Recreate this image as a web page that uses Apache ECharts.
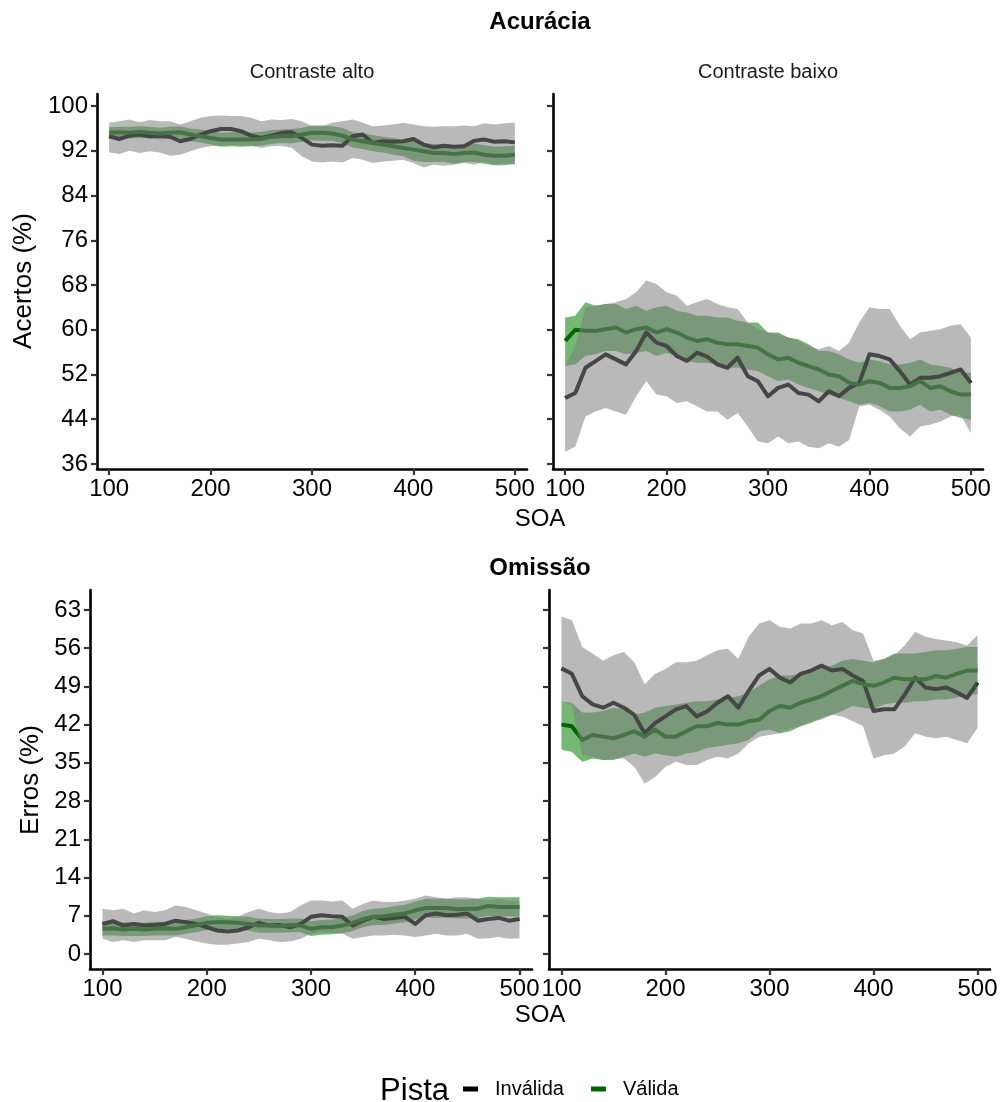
<!DOCTYPE html>
<html>
<head>
<meta charset="utf-8">
<script src="https://cdn.jsdelivr.net/npm/echarts@6/dist/echarts.min.js"></script>
<style>
  html, body { margin: 0; padding: 0; background: #fff; }
  #chart { width: 1005px; height: 1102px; }
</style>
</head>
<body>
<div id="chart"></div>
<script>
// SOA (ms)
const soa = [100,110,120,130,140,150,160,170,180,190,200,210,220,230,240,250,260,270,280,290,300,
             310,320,330,340,350,360,370,380,390,400,410,420,430,440,450,460,470,480,490,500]

const xTicks = [100,200,300,400,500]
const accTicks = [36,44,52,60,68,76,84,92,100]
const errTicks = [0,7,14,21,28,35,42,49,56,63]

// Acurácia - Contraste alto
const altoAccInv = [94.6,94.1,94.7,94.9,94.6,94.7,94.5,93.7,94.1,94.9,95.5,95.9,95.9,95.5,94.7,94.3,94.7,95.2,95.3,94.3,93.1,92.9,93.0,92.9,94.6,94.9,93.4,93.7,93.6,93.7,94.1,93.1,92.6,92.9,92.7,92.8,93.8,94.0,93.6,93.7,93.5]
const altoAccInvHi = [97.0,97.3,97.6,97.1,97.5,97.3,97.3,96.7,97.3,97.9,98.2,98.3,98.2,98.2,97.9,97.3,97.6,97.5,97.7,97.3,96.4,96.4,97.0,97.3,97.6,97.0,96.4,96.5,96.7,97.0,96.7,96.4,96.3,96.4,96.4,96.5,96.4,96.9,96.7,96.9,97.0]
const altoAccInvLo = [91.7,91.4,92.0,91.6,91.9,91.7,91.1,91.3,91.9,92.5,92.8,92.9,93.0,93.0,92.9,92.5,92.8,92.9,92.5,91.0,90.1,89.9,90.1,89.9,90.7,90.4,89.8,90.1,90.2,90.4,89.8,89.0,89.5,89.3,89.5,89.8,89.5,90.1,89.5,89.8,89.5]
const altoAccVal = [95.2,95.3,95.2,95.4,95.2,95.1,95.2,95.3,94.9,94.6,94.3,94.0,94.0,94.0,94.0,94.1,94.5,94.6,94.6,94.9,95.2,95.2,95.1,94.7,94.0,93.7,93.4,93.1,92.8,92.5,92.2,91.9,91.6,91.6,91.4,91.6,91.7,91.3,91.1,91.1,91.3]
const altoAccValHi = [96.2,96.3,96.3,96.4,96.3,96.1,96.3,96.4,96.0,95.8,95.5,95.2,95.3,95.2,95.2,95.4,95.7,95.8,95.9,96.1,96.5,96.5,96.4,96.1,95.3,95.1,94.8,94.5,94.3,93.9,93.7,93.4,93.2,93.1,93.0,93.2,93.3,93.0,92.7,92.8,92.9]
const altoAccValLo = [94.2,94.2,94.2,94.3,94.2,94.0,94.2,94.2,93.7,93.5,93.1,92.7,92.8,92.7,92.8,92.9,93.2,93.4,93.3,93.6,93.9,93.8,93.8,93.4,92.6,92.3,91.9,91.7,91.3,91.0,90.2,90.0,90.0,90.0,89.7,90.0,90.0,89.7,89.4,89.4,89.7]

// Acurácia - Contraste baixo
const baixoAccInv = [47.8,48.7,53.2,54.4,55.6,54.7,53.8,56.2,59.5,57.7,57.1,55.3,54.4,55.9,55.2,53.8,53.2,55.0,51.7,50.8,48.1,49.6,50.2,48.7,48.4,47.2,49.0,48.1,49.6,50.5,55.6,55.3,54.7,52.6,50.2,51.4,51.4,51.7,52.3,52.9,50.5]
const baixoAccInvHi = [53.5,57.1,64.0,64.3,64.6,64.9,65.5,66.7,68.8,68.2,66.7,66.1,64.3,64.9,65.5,64.6,64.0,63.7,61.3,60.1,59.5,59.2,58.6,58.0,57.1,56.5,57.1,56.2,57.7,61.3,64.0,63.7,63.7,60.7,58.3,59.5,59.8,60.1,60.7,61.0,58.6]
const baixoAccInvLo = [38.2,39.1,44.5,45.4,46.0,45.4,44.8,48.1,50.8,48.4,48.1,46.9,47.2,46.3,45.4,45.4,43.9,45.1,42.7,40.0,39.7,40.9,39.7,40.0,39.1,38.8,39.7,39.1,40.3,46.3,46.6,45.7,44.5,42.4,40.9,42.7,43.0,43.6,44.5,44.8,41.5]
const baixoAccVal = [58.0,60.0,59.8,59.8,60.1,60.4,59.5,60.1,60.4,59.5,60.1,59.5,58.6,58.0,58.3,57.7,57.4,57.4,57.1,56.8,55.6,54.7,55.0,54.1,53.5,52.9,52.0,51.7,50.5,50.2,50.8,50.5,49.6,49.6,49.9,50.8,49.6,49.9,49.0,48.4,48.4]
const baixoAccValHi = [62.2,62.5,64.9,64.3,64.6,64.6,63.7,64.3,63.4,64.0,64.3,63.4,63.1,62.5,62.5,62.2,62.2,61.6,61.3,61.3,59.5,59.5,58.6,58.3,57.4,56.2,56.2,55.6,54.7,54.1,54.7,54.4,53.8,53.8,54.1,54.7,53.8,53.5,53.2,52.3,52.3]
const baixoAccValLo = [53.5,53.8,55.3,55.6,56.2,56.2,55.6,55.9,56.2,55.3,55.9,55.3,54.4,54.1,54.1,53.8,53.2,53.2,52.9,52.6,51.7,50.8,51.1,50.2,49.6,49.0,48.4,47.8,47.2,46.6,46.9,46.3,45.4,45.4,45.7,46.6,45.4,45.7,44.8,44.2,43.9]

// Omissão - Contraste alto
const altoErrInv = [5.5,6.0,5.2,5.5,5.2,5.3,5.5,6.1,5.8,5.5,4.9,4.3,4.1,4.3,4.9,5.7,5.2,5.3,4.9,5.5,6.8,7.1,6.9,6.8,5.2,6.1,6.8,6.4,6.6,6.8,5.5,7.1,7.4,7.1,7.2,7.4,6.1,6.4,6.6,6.1,6.4]
const altoErrInvHi = [8.3,8.0,8.3,7.4,8.0,7.7,8.0,8.9,8.6,8.0,7.4,6.8,6.4,6.8,7.7,8.3,7.7,7.4,7.7,8.9,9.8,9.8,9.6,9.8,8.3,9.2,9.8,9.5,9.5,9.8,10.1,10.7,10.4,10.1,10.4,10.4,10.1,9.8,10.1,9.8,9.6]
const altoErrInvLo = [2.8,2.2,2.5,2.2,2.5,2.5,2.5,3.1,2.8,2.3,1.9,1.7,1.7,1.9,2.2,2.8,2.5,2.2,2.3,2.8,3.7,4.0,3.9,3.7,2.8,3.1,3.4,3.4,3.5,3.4,3.1,3.4,3.7,3.4,3.4,3.7,2.8,2.9,3.1,2.8,2.9]
const altoErrVal = [4.6,4.7,4.5,4.6,4.5,4.6,4.7,4.6,4.9,5.3,5.7,5.8,5.8,5.7,5.5,5.2,5.2,5.1,5.3,5.2,4.6,4.9,4.9,5.2,5.7,6.4,6.8,6.9,7.2,7.4,8.0,8.4,8.4,8.4,8.2,8.3,8.3,8.8,8.6,8.6,8.6]
const altoErrValHi = [5.8,5.9,5.8,5.8,5.7,5.9,5.9,5.8,6.2,6.5,6.9,7.1,7.0,6.9,6.8,6.5,6.4,6.4,6.5,6.5,6.0,6.2,6.3,6.6,7.1,7.9,8.3,8.4,8.8,9.0,9.6,10.1,10.1,10.1,10.0,10.0,10.1,10.5,10.4,10.4,10.4]
const altoErrValLo = [3.4,3.4,3.3,3.3,3.3,3.4,3.4,3.4,3.7,4.0,4.4,4.6,4.5,4.4,4.3,3.9,3.9,3.9,4.0,4.0,3.3,3.5,3.6,3.8,4.2,4.9,5.3,5.3,5.6,5.8,6.3,6.7,6.6,6.7,6.5,6.5,6.6,7.0,6.8,6.9,6.8]

// Omissão - Contraste baixo
const baixoErrInv = [52.3,51.3,47.2,45.7,45.1,46.0,45.1,43.8,40.4,42.3,43.5,44.8,45.4,43.5,44.4,46.0,47.2,45.1,48.2,51.0,52.2,50.6,49.7,51.3,51.9,52.8,51.9,52.2,51.0,50.0,44.5,44.8,44.8,47.5,50.6,48.8,48.5,48.8,47.9,46.9,49.7]
const baixoErrInvHi = [61.8,61.1,56.2,55.0,53.7,54.7,55.3,53.4,49.4,51.3,52.2,53.4,53.4,53.7,54.7,55.6,55.9,54.0,58.1,60.5,61.1,59.9,59.6,60.5,60.5,61.1,60.2,60.8,59.3,58.7,53.7,54.0,54.7,56.5,59.0,58.1,57.7,57.4,57.1,56.5,58.4]
const baixoErrInvLo = [46.3,45.5,36.4,36.1,35.5,35.8,35.8,34.3,31.2,32.4,34.3,35.2,34.6,34.6,35.5,36.1,35.8,36.7,38.6,39.8,40.1,40.4,41.4,41.7,42.6,42.9,43.8,43.5,42.6,41.7,35.8,36.4,36.7,38.0,40.4,39.8,39.5,39.8,39.2,38.6,41.4]
const baixoErrVal = [42.0,41.7,39.2,40.1,39.8,39.5,40.1,40.8,39.8,41.1,39.8,39.8,40.8,41.7,41.7,42.3,42.0,42.0,42.6,42.9,44.5,45.4,45.1,46.0,46.6,47.2,48.2,49.1,50.0,49.4,49.1,49.7,50.6,50.3,50.3,50.3,50.9,50.6,51.3,51.9,51.9]
const baixoErrValHi = [46.3,46.0,44.2,44.2,44.5,45.1,44.8,43.8,44.2,45.1,45.4,45.7,46.0,46.3,46.3,46.6,46.9,47.2,47.9,49.1,50.3,51.0,51.0,51.3,52.2,52.5,52.8,53.7,54.0,53.7,53.4,54.0,55.0,55.0,55.0,55.3,55.6,55.6,55.9,56.2,56.2]
const baixoErrValLo = [37.4,37.0,35.2,35.8,35.5,35.5,36.1,36.7,36.1,36.7,36.4,36.1,36.7,37.0,37.7,38.0,38.3,38.6,39.2,40.8,41.1,40.4,40.8,41.7,42.3,43.2,43.8,44.5,45.4,45.1,44.8,45.7,46.0,46.0,46.3,46.3,46.6,46.6,46.9,47.5,47.5]

const FONT = '"Liberation Sans", Arial, sans-serif'
const INV_LINE = '#000000'
const VAL_LINE = '#006400'
const INV_FILL = 'rgba(127,127,127,0.55)'
const VAL_FILL = 'rgba(0,128,0,0.55)'

// painéis: [left, top, width, height]
const grids = [
  { left: 97, top: 94, width: 430, height: 375 },
  { left: 553, top: 94, width: 430, height: 375 },
  { left: 90, top: 590, width: 442, height: 379 },
  { left: 549, top: 590, width: 441, height: 379 }
]

function makeX(i) {
  return {
    type: 'value', gridIndex: i, min: 88, max: 512,
    axisLine: { show: true, onZero: false, lineStyle: { color: '#000', width: 2.6 } },
    axisTick: { show: true, customValues: xTicks, length: 6, lineStyle: { color: '#333', width: 2.2 } },
    axisLabel: { customValues: xTicks, fontSize: 24, color: '#000', fontFamily: FONT, margin: 8 },
    splitLine: { show: false }
  }
}

function makeY(i, min, max, ticks, labels) {
  return {
    type: 'value', gridIndex: i, min: min, max: max,
    axisLine: { show: true, onZero: false, lineStyle: { color: '#000', width: 2.6 } },
    axisTick: { show: true, customValues: ticks, length: 6, lineStyle: { color: '#333', width: 2.2 } },
    axisLabel: { show: labels, customValues: ticks, fontSize: 24, color: '#000', fontFamily: FONT, margin: 9 },
    splitLine: { show: false }
  }
}

function line(name, values, gi, color) {
  return {
    type: 'line', name: name, xAxisIndex: gi, yAxisIndex: gi,
    data: soa.map((x, i) => [x, values[i]]),
    showSymbol: false, symbol: 'none', smooth: false, silent: true,
    lineStyle: { color: color, width: 4, join: 'round' },
    itemStyle: { color: color },
    z: 2
  }
}

function ribbon(lo, hi, gi, fill, z) {
  return {
    type: 'custom', xAxisIndex: gi, yAxisIndex: gi, silent: true, z: z,
    data: soa.map((x, i) => [x, lo[i], hi[i]]),
    encode: { x: 0, y: [1, 2] },
    renderItem: function (params, api) {
      if (params.dataIndex !== 0) return
      const pts = []
      for (let i = 0; i < soa.length; i++) pts.push(api.coord([soa[i], hi[i]]))
      for (let i = soa.length - 1; i >= 0; i--) pts.push(api.coord([soa[i], lo[i]]))
      return { type: 'polygon', shape: { points: pts }, style: { fill: fill } }
    }
  }
}

function txt(text, x, y, size, opts) {
  opts = opts || {}
  return {
    type: 'text', x: x, y: y, rotation: opts.rotation || 0, silent: true,
    style: {
      text: text, fill: opts.color || '#000', fontSize: size, fontFamily: FONT,
      fontWeight: opts.bold ? 'bold' : 'normal',
      textAlign: opts.align || 'center', textVerticalAlign: 'middle'
    }
  }
}

const chart = echarts.init(document.getElementById('chart'), null, { renderer: 'canvas' })

chart.setOption({
  backgroundColor: '#fff',
  animation: false,
  grid: grids,
  xAxis: [makeX(0), makeX(1), makeX(2), makeX(3)],
  yAxis: [
    makeY(0, 35.1, 102.15, accTicks, true),
    makeY(1, 35.1, 102.15, accTicks, false),
    makeY(2, -2.75, 66.65, errTicks, true),
    makeY(3, -2.75, 66.65, errTicks, false)
  ],
  legend: {
    data: ['Inválida', 'Válida'],
    left: 463, top: 1079, padding: 0,
    icon: 'rect', itemWidth: 15, itemHeight: 5, itemGap: 27,
    selectedMode: false,
    textStyle: { fontSize: 20, color: '#000', fontFamily: FONT, padding: [0, 0, 0, 12] }
  },
  graphic: [
    txt('Acurácia', 540, 22, 24, { bold: true }),
    txt('Contraste alto', 312, 72, 20, { color: '#1a1a1a' }),
    txt('Contraste baixo', 768, 72, 20, { color: '#1a1a1a' }),
    txt('SOA', 540, 519, 24),
    txt('Acertos (%)', 24, 281, 26, { rotation: Math.PI / 2 }),
    txt('Omissão', 540, 568, 24, { bold: true }),
    txt('SOA', 540, 1015, 24),
    txt('Erros (%)', 31, 780, 26, { rotation: Math.PI / 2 }),
    txt('Pista', 449, 1091, 31, { align: 'right' })
  ],
  series: [
    // faixas de Válida por baixo, linhas, faixas de Inválida por cima
    ribbon(altoAccValLo, altoAccValHi, 0, VAL_FILL, 1),
    ribbon(baixoAccValLo, baixoAccValHi, 1, VAL_FILL, 1),
    ribbon(altoErrValLo, altoErrValHi, 2, VAL_FILL, 1),
    ribbon(baixoErrValLo, baixoErrValHi, 3, VAL_FILL, 1),
    line('Inválida', altoAccInv, 0, INV_LINE),
    line('Válida', altoAccVal, 0, VAL_LINE),
    line('Inválida', baixoAccInv, 1, INV_LINE),
    line('Válida', baixoAccVal, 1, VAL_LINE),
    line('Inválida', altoErrInv, 2, INV_LINE),
    line('Válida', altoErrVal, 2, VAL_LINE),
    line('Inválida', baixoErrInv, 3, INV_LINE),
    line('Válida', baixoErrVal, 3, VAL_LINE),
    ribbon(altoAccInvLo, altoAccInvHi, 0, INV_FILL, 3),
    ribbon(baixoAccInvLo, baixoAccInvHi, 1, INV_FILL, 3),
    ribbon(altoErrInvLo, altoErrInvHi, 2, INV_FILL, 3),
    ribbon(baixoErrInvLo, baixoErrInvHi, 3, INV_FILL, 3)
  ]
})
</script>
</body>
</html>
